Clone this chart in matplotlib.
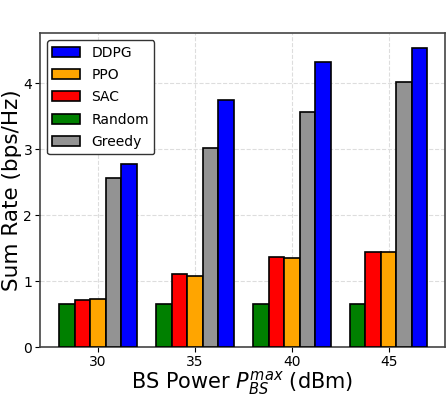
import numpy as np
import matplotlib
matplotlib.use('Agg')
import matplotlib.pyplot as plt

powers = ['30', '35', '40', '45']
random_rate = [0.66, 0.66, 0.66, 0.66]
sac_rate = [0.72, 1.10, 1.37, 1.44]
ppo_rate = [0.73, 1.07, 1.35, 1.44]
greedy_rate = [2.56, 3.01, 3.56, 4.02]
ddpg_rate = [2.78, 3.74, 4.32, 4.54]

fig = plt.figure(figsize=(4.48, 3.98), dpi=100)
ax = fig.add_axes([0.089, 0.128, 0.904, 0.789])

x = np.arange(len(powers))
w = 0.16
series = [
    ('Random', random_rate, 'green'),
    ('SAC', sac_rate, 'red'),
    ('PPO', ppo_rate, 'orange'),
    ('Greedy', greedy_rate, '#939393'),
    ('DDPG', ddpg_rate, 'blue'),
]
bars = {}
for i, (name, vals, col) in enumerate(series):
    bars[name] = ax.bar(x + (i - 2) * w, vals, w, color=col, edgecolor='black',
                        linewidth=1.2, label=name, zorder=3)

ax.set_xticks(x)
ax.set_xticklabels(powers, fontsize=10)
ax.set_yticks([0, 1, 2, 3, 4])
ax.tick_params(axis='y', labelsize=10, pad=2)
ax.tick_params(axis='x', pad=2)
ax.set_xlim(-0.6, 3.58)
ax.set_ylim(0, 4.76)
ax.grid(True, linestyle='--', color='#dddddd', linewidth=0.8, zorder=0)
for s in ax.spines.values():
    s.set_color('#444444')
    s.set_linewidth(1.2)

ax.set_ylabel('Sum Rate (bps/Hz)', fontsize=15.5, labelpad=1)
ax.set_xlabel('BS Power $P_{BS}^{max}$ (dBm)', fontsize=15, labelpad=0)

order = ['DDPG', 'PPO', 'SAC', 'Random', 'Greedy']
leg = ax.legend([bars[n] for n in order], order, loc='upper left', fontsize=10,
                fancybox=True, framealpha=1, edgecolor='#333333',
                handlelength=2.0, labelspacing=0.6, borderaxespad=0.5)
leg.get_frame().set_linewidth(1.0)

fig.savefig('out.png', dpi=100)
